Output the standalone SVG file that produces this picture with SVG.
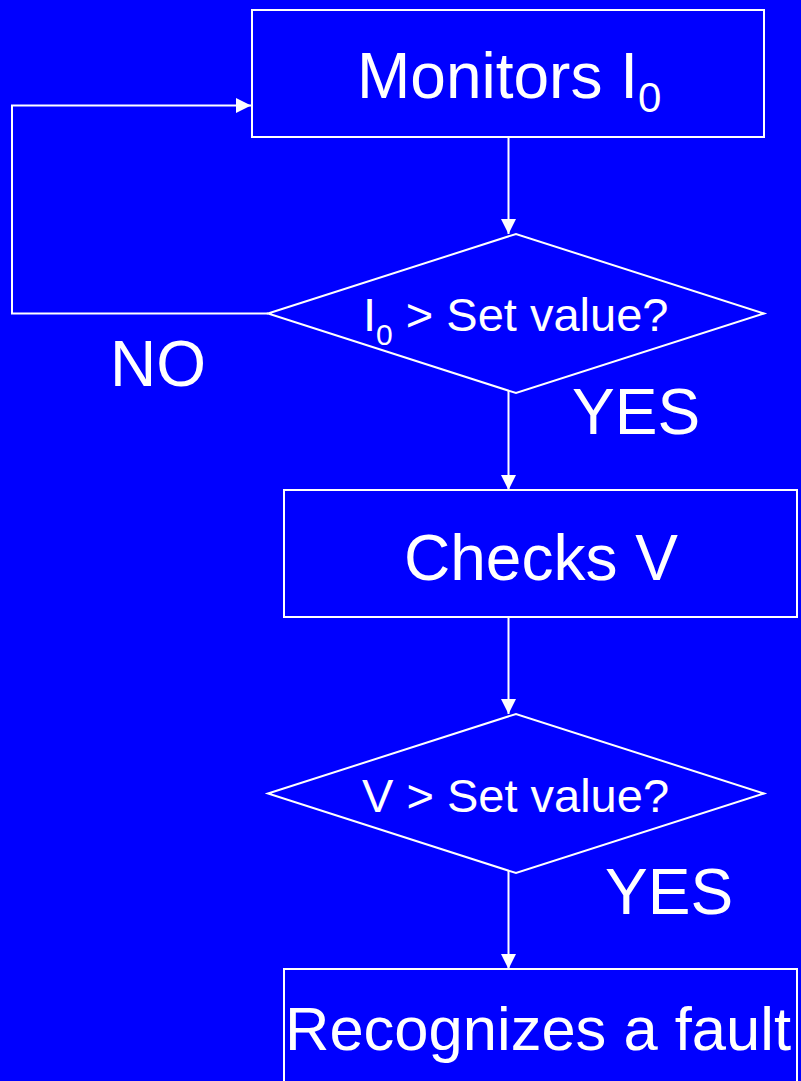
<svg xmlns="http://www.w3.org/2000/svg" width="801" height="1081" viewBox="0 0 801 1081">
<defs>
<style>
.shape{fill:none;stroke:#fff;stroke-width:2}
.conn{fill:none;stroke:#fff;stroke-width:2}
.big{font-family:"Liberation Sans",Arial,sans-serif;font-size:64px;fill:#fff}
.mid{font-family:"Liberation Sans",Arial,sans-serif;font-size:47px;fill:#fff}
.fit{font-family:"Liberation Sans",Arial,sans-serif;font-size:61.5px;fill:#fff}
</style>
<marker id="arr" markerUnits="userSpaceOnUse" markerWidth="16" markerHeight="16" viewBox="0 0 16 16" refX="15" refY="8" orient="auto">
<path d="M0,0.5 L15,8 L0,15.5 Z" fill="#fff"/>
</marker>
</defs>
<rect x="0" y="0" width="801" height="1081" fill="#0000ff"/>
<g id="connectors">
<line class="conn" x1="508.5" y1="137" x2="508.5" y2="234" marker-end="url(#arr)"/>
<line class="conn" x1="508.5" y1="391" x2="508.5" y2="490" marker-end="url(#arr)"/>
<line class="conn" x1="508.5" y1="617" x2="508.5" y2="714" marker-end="url(#arr)"/>
<line class="conn" x1="508.5" y1="871" x2="508.5" y2="969" marker-end="url(#arr)"/>
<polyline class="conn" points="268,313.5 12,313.5 12,105.5 251,105.5" marker-end="url(#arr)"/>
<text class="big" x="110" y="386">NO</text>
<text class="big" x="572" y="434">YES</text>
<text class="big" x="605" y="914">YES</text>
</g>
<g id="monitors">
<rect class="shape" x="252" y="10" width="512" height="127"/>
<text class="big" x="357" y="98">Monitors I<tspan style="font-size:42px" dy="14">0</tspan></text>
</g>
<g id="decision1">
<polygon class="shape" points="268,313.5 516,234 764,313.5 516,393"/>
<text class="mid" x="363" y="331">I<tspan style="font-size:30px" dy="14">0</tspan><tspan dy="-14"> &gt; Set value?</tspan></text>
</g>
<g id="checks">
<rect class="shape" x="284" y="490" width="513" height="127"/>
<text class="big" x="404" y="580">Checks V</text>
</g>
<g id="decision2">
<polygon class="shape" points="268,793.5 516,714 764,793.5 516,873"/>
<text class="mid" x="362" y="812">V &gt; Set value?</text>
</g>
<g id="fault">
<rect class="shape" x="284" y="969" width="513" height="140"/>
<text class="fit" x="285" y="1050">Recognizes a fault</text>
</g>
</svg>
